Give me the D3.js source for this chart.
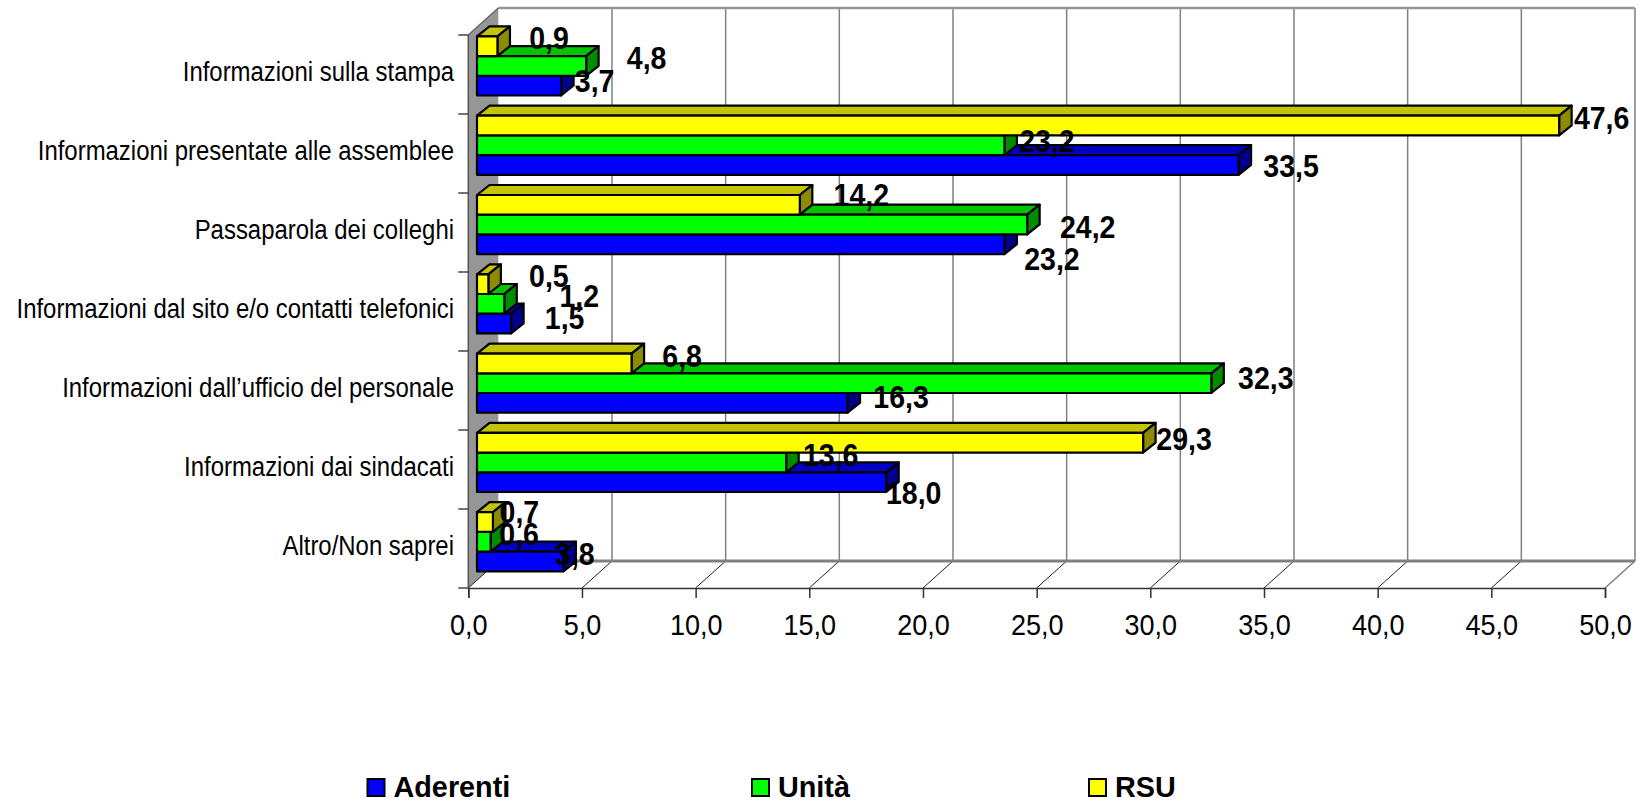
<!DOCTYPE html>
<html><head><meta charset="utf-8">
<script src="https://cdn.jsdelivr.net/npm/d3@7"></script>
<style>html,body{margin:0;background:#fff}svg{display:block}text{font-family:"Liberation Sans",Arial,sans-serif;fill:#000}</style>
</head><body><svg id="c" width="1644" height="804"></svg>
<script>
const categories=["Informazioni sulla stampa","Informazioni presentate alle assemblee","Passaparola dei colleghi","Informazioni dal sito e/o contatti telefonici","Informazioni dall\u2019ufficio del personale","Informazioni dai sindacati","Altro/Non saprei"];
const seriesNames=["Aderenti","Unit\u00e0","RSU"];
const aderenti=[3.7,33.5,23.2,1.5,16.3,18.0,3.8];
const unita=[4.8,23.2,24.2,1.2,32.3,13.6,0.6];
const rsu=[0.9,47.6,14.2,0.5,6.8,29.3,0.7];
const xTicks=[0,5,10,15,20,25,30,35,40,45,50];
// hand-placed data label offsets of the original chart [dx,dy], per category
const nudgeAderenti=[[21,-5],[40,1],[35,15],[41,-6],[41,-6.5],[15,11],[-1,-8]];
const nudgeUnita=[[48,-8],[30,-4],[48,2],[62.5,-8],[42,-5],[32,-8],[16,-8]];
const nudgeRsu=[[39,-8.5],[30,-8],[49,-10],[48,-8],[38,-8],[28.5,-4],[14,-10]];

const series=[
 {name:seriesNames[0],vals:aderenti,nudge:nudgeAderenti,front:"#0000ff",top:"#0000c4",side:"#00008c",slot:2},
 {name:seriesNames[1],vals:unita,nudge:nudgeUnita,front:"#00ff00",top:"#00c400",side:"#008c00",slot:1},
 {name:seriesNames[2],vals:rsu,nudge:nudgeRsu,front:"#ffff00",top:"#c4c400",side:"#8c8c00",slot:0}
];
const svg=d3.select("#c");
const x0=468.3,xEnd=1605,fy0=35,fy1=588,wdx=30,wdy=-27;
const x=d3.scaleLinear().domain([0,50]).range([x0,xEnd]);
const yTick=d3.scaleLinear().domain([0,categories.length]).range([fy0,fy1]);
const barShiftX=8.7,bdx=12.5,bdy=-10;
const xb=v=>x(v)+barShiftX;
const band=d3.scaleBand().domain(categories).range([36.4,36.4+79.3*7]);
const barH=19.7;
const GRID="#808080",WALL="#969696";

const line=(a,b,c,d,col,w)=>svg.append("line").attr("x1",a).attr("y1",b).attr("x2",c).attr("y2",d).attr("stroke",col).attr("stroke-width",w);
svg.append("path").attr("d",d3.line()([[x0,fy0],[x0+wdx,fy0+wdy],[x0+wdx,fy1+wdy],[x0,fy1]])+"Z").attr("fill",WALL);
xTicks.forEach(t=>{ if(t>0) line(x(t)+wdx,fy0+wdy,x(t)+wdx,fy1+wdy,GRID,1.5);
 if(t<50) line(x(t),fy1,x(t)+wdx,fy1+wdy,"#222",1);});
line(xEnd,fy1,xEnd+wdx,fy1+wdy,GRID,1.5);
line(x0+wdx,fy0+wdy,xEnd+wdx,fy0+wdy,WALL,2.5);
line(x0+wdx,fy1+wdy,xEnd+wdx,fy1+wdy,GRID,3);
line(x0,fy0,x0+wdx,fy0+wdy,"#666",1.5);
const ax=svg.append("g").attr("transform",`translate(0,${fy1})`).call(d3.axisBottom(x).tickValues(xTicks).tickSize(10).tickPadding(15.5).tickFormat(d=>d.toFixed(1).replace(".",",")));
ax.select(".domain").attr("stroke","#333").attr("stroke-width",1.5);
ax.selectAll(".tick line").attr("stroke","#333").attr("stroke-width",1.5);
ax.selectAll("text").attr("font-size",30).attr("transform","scale(.9,1)").style("font-family",'"Liberation Sans"').attr("fill","#000");
line(x0,fy0,x0,fy1,"#555",1.5);
d3.range(categories.length+1).forEach(i=>line(x0-10,yTick(i),x0,yTick(i),"#444",1.5));
svg.append("g").selectAll("text").data(categories).join("text")
 .attr("transform",(d,i)=>`translate(454,${(yTick(i)+yTick(i+1))/2+6}) scale(.855,1)`).attr("text-anchor","end")
 .attr("font-size",28).text(d=>d);
categories.forEach((c,i)=>{
 series.forEach(s=>{
  const v=s.vals[i],l=xb(0),r=xb(v),t=band(c)+s.slot*barH,b=t+barH;
  const g=svg.append("g").attr("stroke","#000").attr("stroke-width",2.2).attr("stroke-linejoin","round");
  g.append("path").attr("fill",s.top).attr("d",d3.line()([[l,t],[l+bdx,t+bdy],[r+bdx,t+bdy],[r,t]])+"Z");
  g.append("path").attr("fill",s.side).attr("d",d3.line()([[r,t],[r+bdx,t+bdy],[r+bdx,b+bdy],[r,b]])+"Z");
  g.append("rect").attr("x",l).attr("y",t).attr("width",r-l).attr("height",barH).attr("fill",s.front);
 });
});
categories.forEach((c,i)=>{
 series.forEach(s=>{
  const v=s.vals[i],n=s.nudge[i];
  svg.append("text").attr("transform",`translate(${xb(v)+bdx+n[0]},${band(c)+(s.slot+.5)*barH+n[1]}) scale(.92,1)`).attr("dy",".36em")
   .attr("text-anchor","middle").attr("font-size",31).attr("font-weight","bold").text(v.toFixed(1).replace(".",","));
 });
});
const legX=d3.scaleOrdinal().domain(seriesNames).range([367.5,752,1089]);
series.forEach(s=>{
 const lx=legX(s.name);
 svg.append("rect").attr("x",lx).attr("y",779).attr("width",17).attr("height",17).attr("fill",s.front).attr("stroke","#000").attr("stroke-width",2);
 svg.append("text").attr("transform",`translate(${lx+26},797) scale(.96,1)`).attr("font-size",30).attr("font-weight","bold").text(s.name);
});
</script></body></html>
